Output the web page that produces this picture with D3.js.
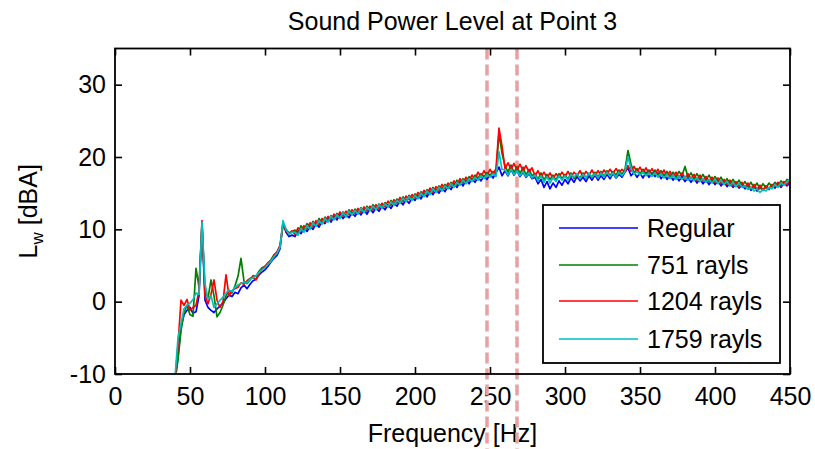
<!DOCTYPE html>
<html><head><meta charset="utf-8">
<script src="https://cdn.jsdelivr.net/npm/d3@7"></script>
<style>body{margin:0;background:#fff}svg{display:block}text{font-family:"Liberation Sans",Arial,sans-serif;fill:#000}</style>
</head><body>
<script>
const title = "Sound Power Level at Point 3";
const xLabel = "Frequency [Hz]";
const xTicks = [0,50,100,150,200,250,300,350,400,450];
const yTicks = [-10,0,10,20,30];
const markers = [248,268];
const freqs = d3.range(40, 451, 2);
const seriesNames = ["Regular","751 rayls","1204 rayls","1759 rayls"];
const seriesColors = ["#0000ff","#008000","#ff0000","#00bfbf"];

const regular = [
-11,-7.5,-3.5,-1.8,-1.2,-0.8,-1.6,-1.4,0.8,10.6,
0.2,-0.8,-1.2,-1.5,-1.0,-0.6,-0.2,0.4,0.9,0.7,
1.3,1.1,1.9,2.3,1.8,2.4,2.9,3.1,3.7,4.1,
4.4,4.9,5.5,6.0,6.4,7.3,10.9,9.6,9.0,9.2,
9.0,9.8,9.4,10.1,9.7,10.4,10.0,10.8,10.3,11.1,
10.8,11.6,11.0,11.8,11.3,12.1,11.5,12.0,11.6,12.3,
11.8,12.5,12.0,12.7,12.1,12.9,12.3,13.0,12.5,13.2,
12.7,13.4,12.9,13.6,13.2,13.9,13.4,14.1,13.6,14.3,
14.0,14.7,14.2,15.0,14.5,15.3,14.8,15.5,15.0,15.7,
15.2,16.0,15.5,16.3,15.8,16.6,16.0,16.8,16.3,17.0,
16.5,17.2,16.7,17.4,16.9,17.6,17.1,17.8,18.6,17.4,
18.1,17.4,18.3,17.5,18.1,17.3,17.9,17.2,17.7,17.0,
17.2,16.3,16.9,15.8,16.6,15.6,16.4,15.8,16.7,16.1,
16.9,16.3,17.1,16.5,17.3,16.7,17.2,16.6,17.4,16.8,
17.5,16.8,17.4,16.9,17.6,17.0,17.7,17.1,17.6,17.2,
17.9,18.5,17.4,17.9,17.2,17.8,17.1,17.9,17.2,17.8,
17.3,17.8,17.0,17.6,16.9,17.5,16.8,17.4,16.7,17.3,
16.6,17.2,16.5,17.1,16.4,17.0,16.3,16.9,16.2,16.8,
16.2,16.7,16.0,16.6,15.9,16.4,15.8,16.3,15.7,16.1,
15.6,16.1,15.4,16.0,15.3,15.9,15.4,16.0,15.5,16.1,
15.7,16.3,15.8,16.4,16.0,16.5];

const rayls751 = [
-11,-8,-4,-1.5,-0.5,-1.8,-2.0,4.6,2.0,10.8,
1.5,0.5,3.0,0.8,-2.1,-1.5,-0.5,0.8,1.5,1.2,
2.2,3.5,6.0,2.8,2.5,3.0,3.6,3.5,4.2,4.7,
4.9,5.3,5.8,6.5,6.8,7.6,10.5,10.0,9.5,9.7,
9.9,9.4,10.5,9.9,10.8,10.3,11.1,10.5,11.5,10.9,
11.7,11.1,11.9,11.4,12.2,11.6,12.4,11.8,12.7,12.0,
12.8,12.2,13.0,12.4,13.2,12.6,13.4,12.8,13.5,13.0,
13.7,13.1,14.0,13.4,14.2,13.7,14.5,13.9,14.7,14.2,
14.9,14.4,15.2,14.7,15.5,15.0,15.8,15.2,16.0,15.5,
16.2,15.7,16.5,16.0,16.8,16.2,17.0,16.5,17.3,16.8,
17.5,17.0,17.7,17.2,17.9,17.4,18.0,17.7,23.3,20.5,
18.8,17.9,18.9,17.8,18.7,17.7,18.6,17.5,18.3,17.4,
17.7,16.9,17.8,16.8,17.6,16.9,17.5,16.8,17.7,17.0,
17.6,16.9,17.8,17.0,17.5,17.1,17.8,17.1,17.6,17.2,
17.9,17.2,18.0,17.3,18.1,17.4,18.0,17.5,18.2,17.6,
18.3,20.9,19.0,17.8,18.4,17.7,18.3,17.6,18.2,17.5,
18.2,17.5,18.1,17.4,18.0,17.3,17.9,17.3,18.0,17.4,
18.7,17.2,17.8,17.0,17.7,16.9,17.6,16.8,17.5,16.7,
17.3,16.6,17.2,16.4,17.0,16.3,16.9,16.2,16.8,16.0,
16.6,15.9,16.5,15.7,16.4,15.6,16.3,15.7,16.4,15.9,
16.5,16.0,16.7,16.2,16.9,16.7];

const rayls1204 = [
-11,-6,0.2,-0.5,0.3,-1.2,-0.8,-0.5,1.5,11.2,
0.8,-0.3,1.0,3.0,0.2,-0.8,0.0,3.7,0.8,1.5,
1.8,2.0,2.6,2.4,2.9,3.2,3.4,3.0,3.9,4.5,
4.8,5.4,5.7,6.3,6.9,7.8,10.8,9.8,9.4,9.8,
9.3,10.2,9.7,10.5,10.0,10.9,10.3,11.2,10.6,11.5,
11.0,11.8,11.3,12.1,11.6,12.4,11.8,12.5,12.0,12.7,
12.2,12.9,12.3,13.1,12.5,13.2,12.7,13.4,12.9,13.6,
13.1,13.9,13.3,14.1,13.6,14.4,13.8,14.6,14.1,14.8,
14.3,15.1,14.6,15.4,14.9,15.7,15.1,15.9,15.4,16.2,
15.6,16.4,15.9,16.7,16.1,17.0,16.4,17.2,16.7,17.5,
16.9,17.9,17.2,18.1,17.4,18.3,17.6,18.4,24.0,21.5,
18.4,19.2,18.3,19.1,18.2,19.0,18.1,18.8,17.9,18.5,
17.4,18.1,17.2,17.9,17.1,17.8,17.0,17.7,17.2,17.9,
17.3,18.0,17.2,17.9,17.4,18.1,17.3,18.0,17.5,18.2,
17.4,18.1,17.5,18.2,17.6,18.3,17.7,18.4,17.8,18.3,
17.9,18.8,18.0,18.7,17.9,18.6,17.8,18.5,17.7,18.4,
17.6,18.3,17.5,18.2,17.4,18.0,17.3,17.9,17.2,17.8,
17.1,17.7,17.0,17.6,16.8,17.5,16.7,17.3,16.6,17.2,
16.5,17.1,16.3,16.9,16.2,16.8,16.0,16.6,15.9,16.5,
15.8,16.4,15.6,16.2,15.5,16.1,15.4,16.0,15.6,16.2,
15.9,16.5,16.0,16.6,16.2,16.8];

const rayls1759 = [
-10.5,-5,-3,-1.0,-0.5,-0.2,0.3,1.2,1.0,11.0,
2.5,0.3,0.8,-0.8,-0.3,0.2,0.6,1.2,1.6,1.4,
2.0,2.3,2.5,2.7,2.6,3.1,3.3,3.6,4.0,4.4,
4.7,5.2,5.6,6.2,6.7,7.5,11.2,10.0,9.3,9.6,
9.6,9.2,10.1,9.6,10.5,10.0,10.9,10.4,11.2,10.7,
11.5,11.0,11.8,11.3,12.0,11.5,12.3,11.7,12.5,12.0,
12.6,12.1,12.9,12.3,13.0,12.6,13.2,12.7,13.4,12.9,
13.5,13.1,13.8,13.3,14.0,13.6,14.3,13.8,14.5,14.0,
14.7,14.2,15.0,14.5,15.3,14.8,15.6,15.1,15.8,15.3,
16.0,15.6,16.3,15.8,16.5,16.1,16.8,16.3,17.0,16.6,
17.2,16.8,17.4,17.0,17.6,17.2,17.7,17.3,20.7,18.3,
18.2,17.5,18.3,17.6,18.1,17.4,18.0,17.3,17.8,17.1,
17.5,16.7,17.4,16.5,17.3,16.4,17.2,16.6,17.4,16.8,
17.4,16.8,17.6,17.2,17.7,17.0,17.6,17.1,17.8,17.2,
17.7,17.1,17.8,17.2,17.9,17.3,17.8,17.2,17.9,17.4,
18.0,20.0,18.4,17.6,18.0,17.5,17.9,17.4,17.8,17.3,
17.8,17.2,17.7,17.1,17.6,17.0,17.5,16.9,17.4,16.9,
17.3,16.8,17.2,16.7,17.1,16.6,17.0,16.5,16.9,16.4,
16.9,16.3,16.8,16.2,16.6,16.0,16.5,15.9,16.4,15.8,
16.0,15.5,15.8,15.3,15.6,15.1,15.5,15.3,15.8,15.6,
16.2,15.8,16.4,16.1,16.6,16.9];

const seriesValues = [regular, rayls751, rayls1204, rayls1759];

const W = 815, H = 449;
const m = {left:115, right:25, top:48.5, bottom:75};
const pw = W - m.left - m.right, ph = H - m.top - m.bottom;
const svg = d3.select("body").append("svg").attr("width", W).attr("height", H);
const x = d3.scaleLinear().domain([0,450]).range([m.left, m.left+pw]);
const y = d3.scaleLinear().domain([-10,35]).range([m.top+ph, m.top]);
const FS = 25;
const fmt = d => String(d);

svg.append("clipPath").attr("id","clip").append("rect")
  .attr("x", m.left).attr("y", m.top).attr("width", pw).attr("height", ph);

// axes (ticks inward, mirrored)
const ax = svg.append("g").attr("class","axes");
const tl = 7;
const gxb = ax.append("g").attr("transform",`translate(0,${m.top+ph})`)
  .call(d3.axisBottom(x).tickValues(xTicks).tickSize(-tl).tickPadding(13).tickFormat(fmt));
ax.append("g").attr("transform",`translate(0,${m.top})`)
  .call(d3.axisTop(x).tickValues(xTicks).tickSize(-tl).tickFormat(""));
ax.append("g").attr("transform",`translate(${m.left},0)`)
  .call(d3.axisLeft(y).tickValues(yTicks).tickSize(-tl).tickPadding(9).tickFormat(fmt));
ax.append("g").attr("transform",`translate(${m.left+pw},0)`)
  .call(d3.axisRight(y).tickValues(yTicks).tickSize(-tl).tickFormat(""));
ax.selectAll(".domain").remove();
ax.selectAll(".tick line").attr("stroke","#000").attr("stroke-width",1.6);
ax.selectAll(".tick text").attr("font-size",FS).attr("fill","#000")
  .attr("font-family",'"Liberation Sans",Arial,sans-serif');
gxb.selectAll(".tick text").attr("dy","0.71em");

// labels
svg.append("text").attr("x", m.left+pw/2).attr("y", 30).attr("text-anchor","middle")
  .attr("font-size",FS).text(title);
svg.append("text").attr("x", m.left+pw/2).attr("y", 442).attr("text-anchor","middle")
  .attr("font-size",FS).text(xLabel);
const yl = svg.append("text").attr("transform",`translate(37,${m.top+ph/2}) rotate(-90)`)
  .attr("text-anchor","middle").attr("font-size",FS);
yl.append("tspan").text("L");
yl.append("tspan").attr("font-size",17).attr("dy",6).text("w");
yl.append("tspan").attr("dy",-6).text(" [dBA]");

// dashed markers
svg.append("g").selectAll("line").data(markers).join("line")
  .attr("x1", d=>x(d)).attr("x2", d=>x(d)).attr("y1", m.top).attr("y2", H+5)
  .attr("stroke","#e9a0a0").attr("stroke-width",3.5).attr("stroke-dasharray","11,5");

// data
const line = d3.line().x((d,i)=>x(freqs[i])).y(d=>y(d));
const dg = svg.append("g").attr("clip-path","url(#clip)");
seriesValues.forEach((vals,k)=>{
  dg.append("path").datum(vals).attr("d", line).attr("fill","none")
    .attr("stroke", seriesColors[k]).attr("stroke-width",1.7).attr("stroke-linejoin","round");
});

// frame
svg.append("rect").attr("x", m.left).attr("y", m.top).attr("width", pw).attr("height", ph)
  .attr("fill","none").attr("stroke","#000").attr("stroke-width",1.8);

// legend
const lg = svg.append("g");
const lx = 543, ly = 205, lw = 237, lh = 158;
lg.append("rect").attr("x",lx).attr("y",ly).attr("width",lw).attr("height",lh)
  .attr("fill","#fff").attr("stroke","#000").attr("stroke-width",1.8);
const rows = [228,265,301,339];
seriesNames.forEach((n,k)=>{
  lg.append("line").attr("x1",559).attr("x2",638).attr("y1",rows[k]).attr("y2",rows[k])
    .attr("stroke",seriesColors[k]).attr("stroke-width",1.6);
  lg.append("text").attr("x",647).attr("y",rows[k]).attr("dy","0.36em")
    .attr("font-size",FS).text(n);
});
</script>
</body></html>
